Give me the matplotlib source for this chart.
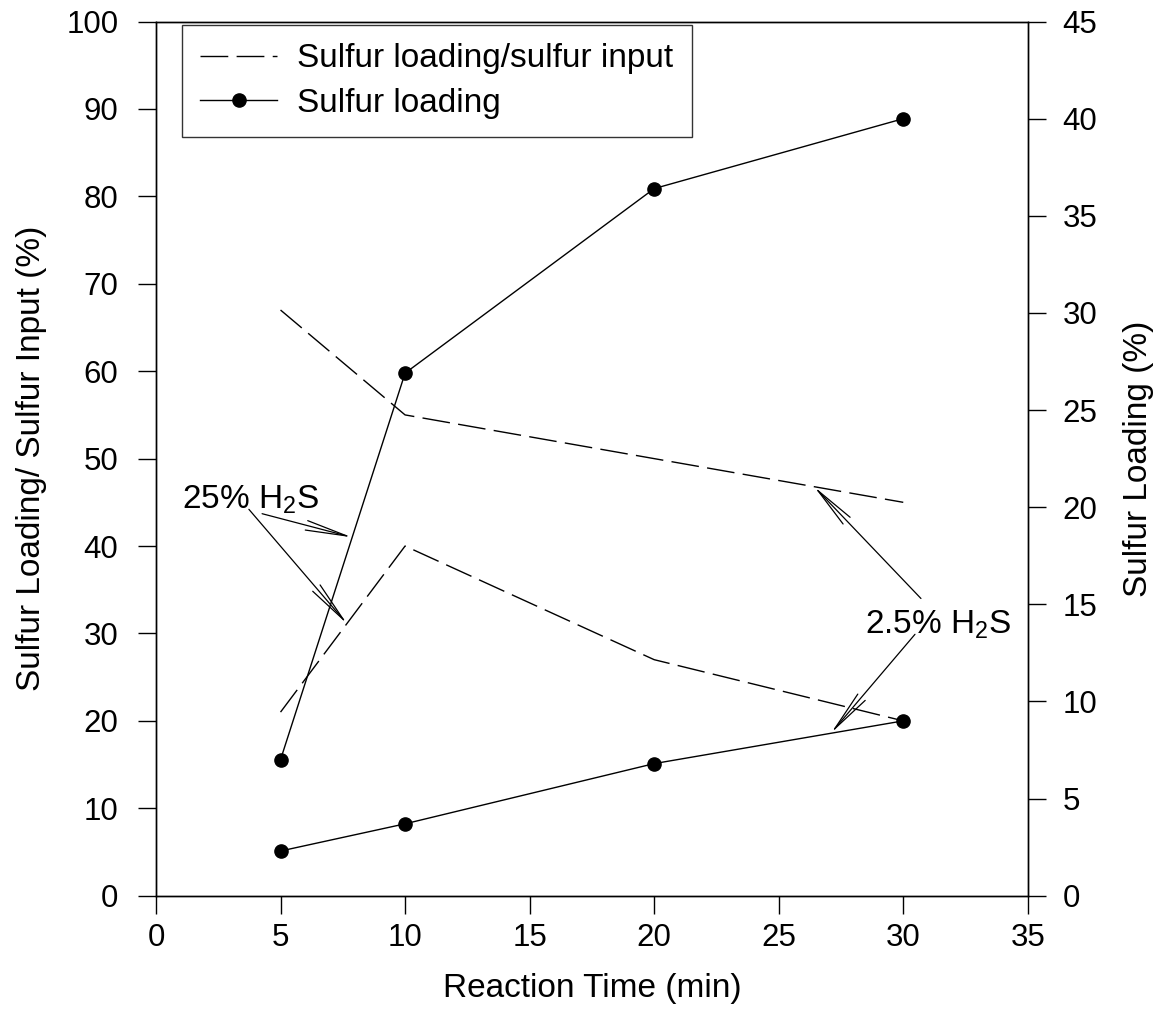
import numpy as np
import matplotlib.pyplot as plt
from matplotlib.lines import Line2D

plt.rcParams['font.family'] = ['Liberation Sans', 'DejaVu Sans']
plt.rcParams['mathtext.default'] = 'regular'

# reaction time (min)
time = [5, 10, 20, 30]
# sulfur loading / sulfur input (%), left axis
ratio_25 = [21, 40, 27, 20]
ratio_2_5 = [67, 55, 50, 45]
# sulfur loading (%), right axis
loading_25 = [7.0, 26.9, 36.4, 40.0]
loading_2_5 = [2.3, 3.7, 6.8, 9.0]

dash = (20, 6)

fig = plt.figure(figsize=(11.64, 10.26), dpi=100)
ax = fig.add_axes([0.134, 0.127, 0.749, 0.852])
ax2 = ax.twinx()

ax.plot(time, ratio_25, color='black', lw=1.0, dashes=dash)
ax.plot(time, ratio_2_5, color='black', lw=1.0, dashes=dash)
ax2.plot(time, loading_25, color='black', lw=1.0, marker='o', ms=9.5)
ax2.plot(time, loading_2_5, color='black', lw=1.0, marker='o', ms=9.5)

ax.set_xlim(0, 35)
ax.set_ylim(0, 100)
ax2.set_ylim(0, 45)
ax.set_xticks(np.arange(0, 36, 5))
ax.set_yticks(np.arange(0, 101, 10))
ax2.set_yticks(np.arange(0, 46, 5))

for a in (ax, ax2):
    a.tick_params(direction='out', length=13, width=1, labelsize=22.5, pad=12)
    for s in a.spines.values():
        s.set_linewidth(1)
ax.tick_params(axis='y', pad=14)
ax.tick_params(axis='x', pad=7)

ax.set_xlabel('Reaction Time (min)', fontsize=24)
ax.set_ylabel('Sulfur Loading/ Sulfur Input (%)', fontsize=24)
ax2.set_ylabel('Sulfur Loading (%)', fontsize=24)
ax.xaxis.set_label_coords(0.5, -0.088)
ax.yaxis.set_label_coords(-0.125, 0.5)
ax2.yaxis.set_label_coords(1.109, 0.5)

handles = [
    Line2D([], [], color='black', lw=1.0, dashes=dash),
    Line2D([], [], color='black', lw=1.0, marker='o', ms=9.5),
]
leg = ax.legend(handles, ['Sulfur loading/sulfur input', 'Sulfur loading'],
                loc='upper left', bbox_to_anchor=(0.03, 0.996), fontsize=24,
                frameon=True, fancybox=False, edgecolor='black',
                handlelength=2.3, handletextpad=0.6, borderpad=0.55,
                labelspacing=0.4, borderaxespad=0)
leg.get_frame().set_linewidth(1)

arrow = dict(arrowstyle='->,head_length=3.0,head_width=0.35', color='black', lw=0.9,
             shrinkA=0, shrinkB=0, mutation_scale=10)

# 25% H2S annotation
ax.text(1.04, 45.3, '25% H$_2$S', fontsize=24, va='center', ha='left')
ax.annotate('', xy=(7.67, 31.1), xytext=(3.73, 44.2), arrowprops=arrow)
ax.annotate('', xy=(7.87, 41.0), xytext=(4.26, 43.7), arrowprops=arrow)

# 2.5% H2S annotation
ax.text(28.45, 31.0, '2.5% H$_2$S', fontsize=24, va='center', ha='left')
ax.annotate('', xy=(26.42, 46.8), xytext=(30.71, 34.0), arrowprops=arrow)
ax.annotate('', xy=(27.1, 18.6), xytext=(30.47, 29.9), arrowprops=arrow)

fig.savefig('out.png', dpi=100)
